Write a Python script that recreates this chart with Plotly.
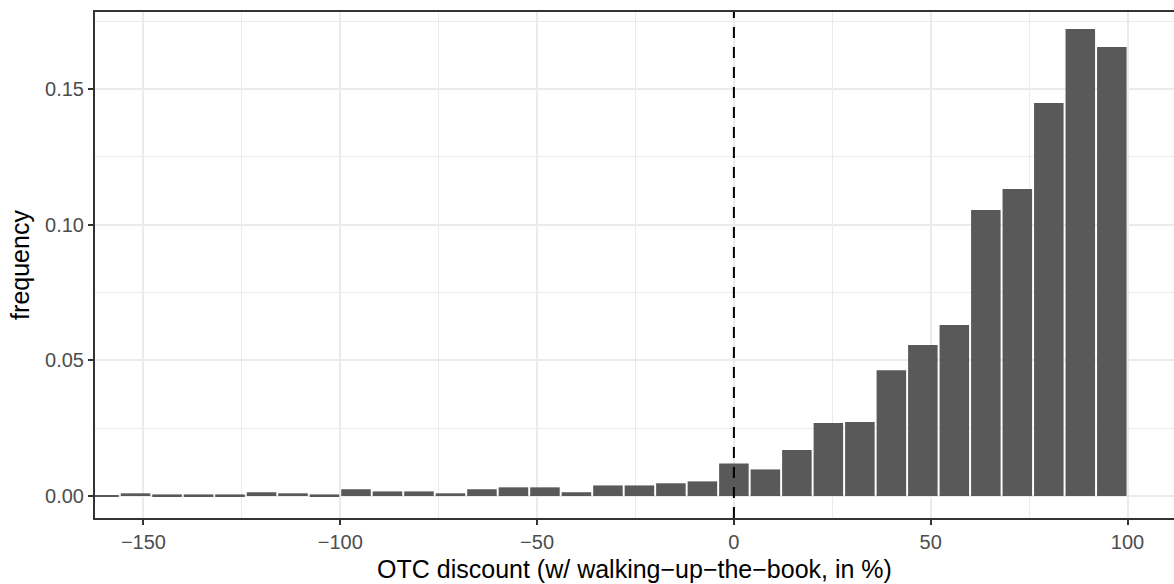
import plotly.graph_objects as go

# Histogram of OTC discount: bin centres (bin width 8, last bin ends at 100) and relative frequencies
bin_centers = [-160, -152, -144, -136, -128, -120, -112, -104, -96, -88, -80,
               -72, -64, -56, -48, -40, -32, -24, -16, -8, 0, 8, 16, 24,
               32, 40, 48, 56, 64, 72, 80, 88, 96]
frequency = [0.0002, 0.0010, 0.0006, 0.0006, 0.0006, 0.0014, 0.0010, 0.0006,
             0.0025, 0.0017, 0.0017, 0.0010, 0.0025, 0.0032, 0.0032, 0.0014,
             0.0039, 0.0039, 0.0047, 0.0054, 0.0120, 0.0098, 0.0170, 0.0269,
             0.0273, 0.0464, 0.0557, 0.0630, 0.1054, 0.1132, 0.1449, 0.1721,
             0.1655]

x_ticks = [-150, -100, -50, 0, 50, 100]
y_ticks = [0.00, 0.05, 0.10, 0.15]
y_tick_text = ["0.00", "0.05", "0.10", "0.15"]

FONT = "Liberation Sans, Arial, Helvetica, sans-serif"
GRID = "#EBEBEB"
BORDER = "#333333"

fig = go.Figure()
fig.add_trace(go.Bar(
    x=bin_centers,
    y=frequency,
    marker=dict(color="#595959", line=dict(width=0)),
    hoverinfo="x+y",
))

# reference line at zero discount
fig.add_shape(type="line", xref="x", yref="paper", x0=0, x1=0, y0=0, y1=1,
              line=dict(color="black", width=2, dash="11px,9px"), layer="above")

fig.update_layout(
    width=1174, height=584,
    margin=dict(l=95, r=0, t=12, b=66),
    paper_bgcolor="white", plot_bgcolor="white",
    bargap=0.0625,
    showlegend=False,
    font=dict(family=FONT, color="#4D4D4D", size=20),
)

fig.update_xaxes(
    range=[-162.3, 111.8],
    tickvals=x_ticks,
    ticks="outside", ticklen=5, tickwidth=2, tickcolor=BORDER,
    tickfont=dict(family=FONT, size=20, color="#4D4D4D"),
    showgrid=True, gridcolor=GRID, gridwidth=1.8,
    minor=dict(dtick=25, tick0=0, showgrid=True, gridcolor=GRID, gridwidth=0.9, ticks=""),
    showline=True, linecolor=BORDER, linewidth=2, mirror=True,
    zeroline=False,
    title=dict(text="OTC discount (w/ walking\u2212up\u2212the\u2212book, in %)",
               font=dict(family=FONT, size=25, color="black"), standoff=8),
)

fig.update_yaxes(
    range=[-0.0081, 0.1784],
    tickvals=y_ticks, ticktext=y_tick_text,
    ticks="outside", ticklen=5, tickwidth=2, tickcolor=BORDER,
    tickfont=dict(family=FONT, size=20, color="#4D4D4D"),
    showgrid=True, gridcolor=GRID, gridwidth=1.8,
    minor=dict(dtick=0.025, tick0=0, showgrid=True, gridcolor=GRID, gridwidth=0.9, ticks=""),
    showline=True, linecolor=BORDER, linewidth=2, mirror=False,
    zeroline=False,
    title=dict(text="frequency", font=dict(family=FONT, size=25, color="black"), standoff=8),
)

fig.write_html("out.html")
